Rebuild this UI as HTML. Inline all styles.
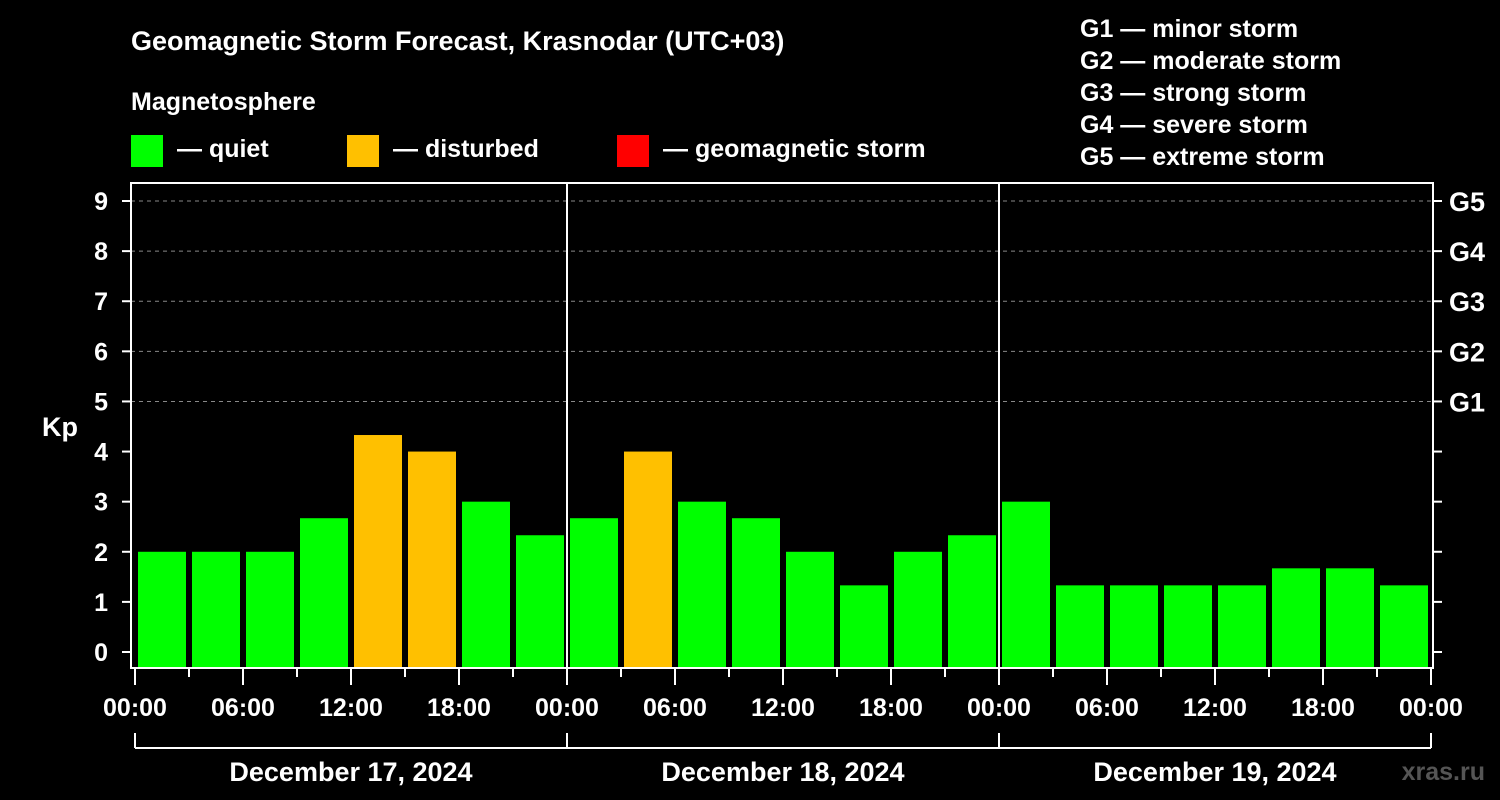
<!DOCTYPE html>
<html><head><meta charset="utf-8"><style>
html,body{margin:0;padding:0;background:#000;}
svg{display:block;font-family:"Liberation Sans",Arial,sans-serif;font-weight:bold;}
</style></head><body>
<svg id="chart" width="1500" height="800" viewBox="0 0 1500 800">
<rect width="1500" height="800" fill="#000"/>
<text x="131" y="50" fill="#fff" font-size="27">Geomagnetic Storm Forecast, Krasnodar (UTC+03)</text>
<text x="131" y="110" fill="#fff" font-size="25">Magnetosphere</text>
<g>
<rect x="131" y="135" width="32" height="32" fill="#00ff00"/>
<text x="177" y="157" fill="#fff" font-size="25">— quiet</text>
<rect x="347" y="135" width="32" height="32" fill="#ffc000"/>
<text x="393" y="157" fill="#fff" font-size="25">— disturbed</text>
<rect x="617" y="135" width="32" height="32" fill="#ff0000"/>
<text x="663" y="157" fill="#fff" font-size="25">— geomagnetic storm</text>
</g>
<g fill="#fff" font-size="25">
<text x="1080" y="37">G1 — minor storm</text>
<text x="1080" y="69">G2 — moderate storm</text>
<text x="1080" y="101">G3 — strong storm</text>
<text x="1080" y="133">G4 — severe storm</text>
<text x="1080" y="165">G5 — extreme storm</text>
</g>
<text x="42" y="436" fill="#fff" font-size="27">Kp</text>
<text x="1485" y="780" fill="#555" font-size="25" text-anchor="end">xras.ru</text>
<g id="plot"></g>
</svg>
<script>
const kpValues = [2,2,2,2.67,4.33,4,3,2.33, 2.67,4,3,2.67,2,1.33,2,2.33, 3,1.33,1.33,1.33,1.33,1.67,1.67,1.33];
const yTicks = [0,1,2,3,4,5,6,7,8,9];
const gLabels = ["G1","G2","G3","G4","G5"];
const gLevels = [5,6,7,8,9];
const xTickLabels = ["00:00","06:00","12:00","18:00","00:00","06:00","12:00","18:00","00:00","06:00","12:00","18:00","00:00"];
const dayLabels = ["December 17, 2024","December 18, 2024","December 19, 2024"];

const NS="http://www.w3.org/2000/svg";
const g=document.getElementById('plot');
const X0=135,X1=1431,PL=131,PR=1433,PT=183,PB=668;
const x=h=>X0+(X1-X0)*h/72;
const y=v=>652-v*50.11;
function mk(t,a,p){const e=document.createElementNS(NS,t);for(const k in a)e.setAttribute(k,a[k]);(p||g).appendChild(e);return e;}

// grid lines
gLevels.forEach(v=>{
  const l=mk('line',{x1:PL,x2:PR,y1:y(v),y2:y(v),stroke:'#888','stroke-dasharray':'4,4','stroke-width':1});
  
  
});
// bars
kpValues.forEach((v,i)=>{
  const c=v>=5?'#ff0000':(v>=4?'#ffc000':'#00ff00');
  const b=mk('rect',{x:x(i*3)+3,y:y(v),width:x(3)-x(0)-6,height:PB-y(v),fill:c});
  
  
});
// day separators
[1,2].forEach(d=>{
  const l=mk('line',{x1:x(d*24),x2:x(d*24),y1:PT,y2:PB,stroke:'#fff','stroke-width':2});
  
  
});
// frame
const fr=mk('rect',{x:PL,y:PT,width:PR-PL,height:PB-PT,fill:'none',stroke:'#fff','stroke-width':2});


// y ticks
yTicks.forEach(v=>{
  const t1=mk('line',{x1:122,x2:PL,y1:y(v),y2:y(v),stroke:'#fff','stroke-width':2});
  
  
  const t2=mk('line',{x1:PR,x2:1442,y1:y(v),y2:y(v),stroke:'#fff','stroke-width':2});
  
  
  const tx=mk('text',{x:108,y:y(v)+9,fill:'#fff','font-size':25,'text-anchor':'end'});
  tx.textContent=v;
  
  
});
gLevels.forEach((v,i)=>{
  const tx=mk('text',{x:1449,y:y(v)+10,fill:'#fff','font-size':27});
  tx.textContent=gLabels[i];
  
  
});
// x ticks
for(let h=0;h<=72;h+=3){
  const major=h%6===0;
  const t=mk('line',{x1:x(h),x2:x(h),y1:PB,y2:PB+(major?17:9),stroke:'#fff','stroke-width':2});
  
  
}
xTickLabels.forEach((s,i)=>{
  const tx=mk('text',{x:x(i*6),y:716,fill:'#fff','font-size':25,'text-anchor':'middle'});
  tx.textContent=s;
  
  
});
// day brackets
const br=mk('line',{x1:x(0),x2:x(72),y1:748,y2:748,stroke:'#fff','stroke-width':2});


[0,24,48,72].forEach(h=>{
  const t=mk('line',{x1:x(h),x2:x(h),y1:733,y2:748,stroke:'#fff','stroke-width':2});
  
  
});
dayLabels.forEach((s,i)=>{
  const tx=mk('text',{x:x(i*24+12),y:781,fill:'#fff','font-size':27,'text-anchor':'middle'});
  tx.textContent=s;
  
  
});
</script>
</body></html>
